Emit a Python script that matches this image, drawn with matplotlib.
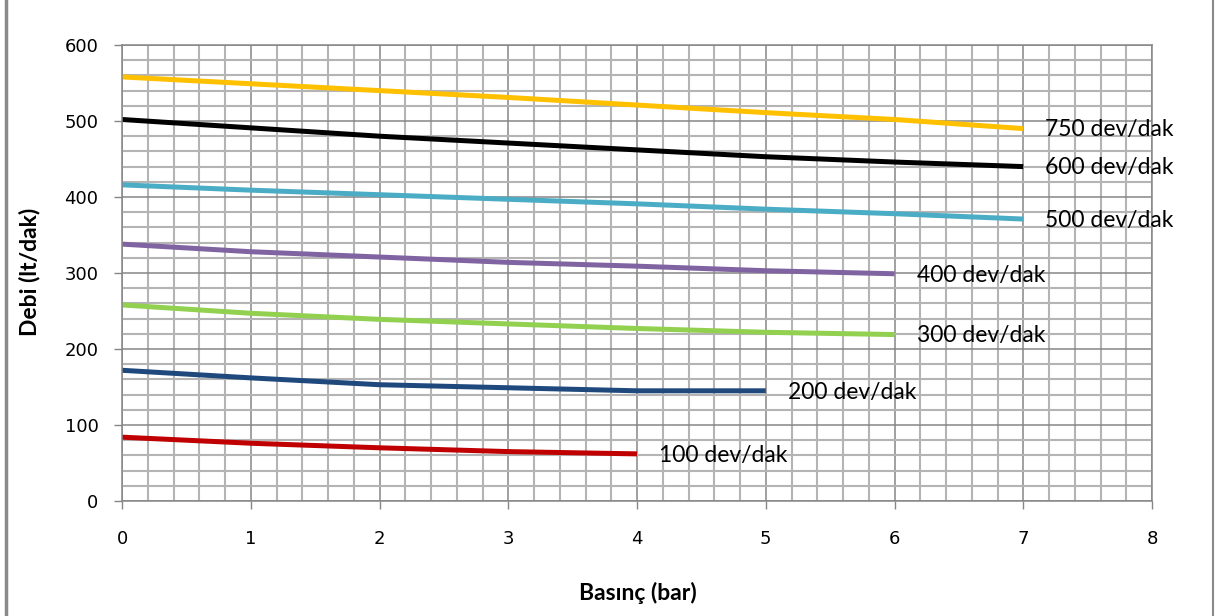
import numpy as np
import matplotlib
matplotlib.use("Agg")
import matplotlib.pyplot as plt
from matplotlib.lines import Line2D
from matplotlib.ticker import MultipleLocator

# pressure (bar) and flow (lt/dak) for each pump speed
pressure = [0, 1, 2, 3, 4, 5, 6, 7]
speeds = ["750 dev/dak", "600 dev/dak", "500 dev/dak", "400 dev/dak",
          "300 dev/dak", "200 dev/dak", "100 dev/dak"]
flow_750 = [558, 549, 540, 531, 521, 511, 502, 490]
flow_600 = [502, 491, 480, 471, 462, 453, 446, 440]
flow_500 = [416, 409, 403, 397, 391, 384, 378, 371]
flow_400 = [338, 328, 321, 314, 309, 303, 299]
flow_300 = [258, 247, 239, 233, 227, 222, 219]
flow_200 = [172, 162, 153, 149, 145, 145]
flow_100 = [84, 76, 70, 65, 62]
flows = [flow_750, flow_600, flow_500, flow_400, flow_300, flow_200, flow_100]
colors = ["#FFC000", "#000000", "#4BACC6", "#8064A2", "#92D050", "#1F497D", "#C00000"]

fig = plt.figure(figsize=(12.15, 6.16), dpi=100)
ax = fig.add_axes([122/1215, 1 - 501/616, 1030/1215, 456/616])

ax.set_xlim(0, 8)
ax.set_ylim(0, 600)
ax.xaxis.set_major_locator(MultipleLocator(1))
ax.xaxis.set_minor_locator(MultipleLocator(0.2))
ax.yaxis.set_major_locator(MultipleLocator(100))
ax.yaxis.set_minor_locator(MultipleLocator(20))

ax.grid(which="minor", color="#b4b4b4", lw=1.5)
ax.grid(which="major", color="#868686", lw=1.1)
ax.set_axisbelow(True)

for s in ax.spines.values():
    s.set_color("#868686")
    s.set_linewidth(1.1)

ax.tick_params(which="major", direction="out", length=6, color="#868686",
               labelsize=13, width=1)
ax.tick_params(axis="x", pad=15)
ax.tick_params(axis="y", pad=11)
ax.tick_params(which="minor", length=0)

for name, y, c in zip(speeds, flows, colors):
    x = pressure[:len(y)]
    ax.plot(x, y, color=c, lw=3.6, solid_capstyle="butt")
    ax.annotate(name, xy=(x[-1], y[-1]), xytext=(16, -1), textcoords="offset points",
                fontsize=16.5, family="Lato", va="center", ha="left")

fig.text(638/1215, 1 - 593/616, "Basınç (bar)", fontsize=16.5, family="Lato",
         fontweight="bold", ha="center", va="center")
fig.text(30/1215, 1 - 272/616, "Debi (lt/dak)", fontsize=16.5, family="Lato",
         fontweight="bold", ha="center", va="center", rotation=90)

# gray frame sides of the chart object
fig.add_artist(Line2D([6/1215, 6/1215], [0, 1], color="#8a8a8a", lw=2.5))
fig.add_artist(Line2D([1213/1215, 1213/1215], [0, 1], color="#8a8a8a", lw=1.5))

fig.savefig("out.png", dpi=100)
